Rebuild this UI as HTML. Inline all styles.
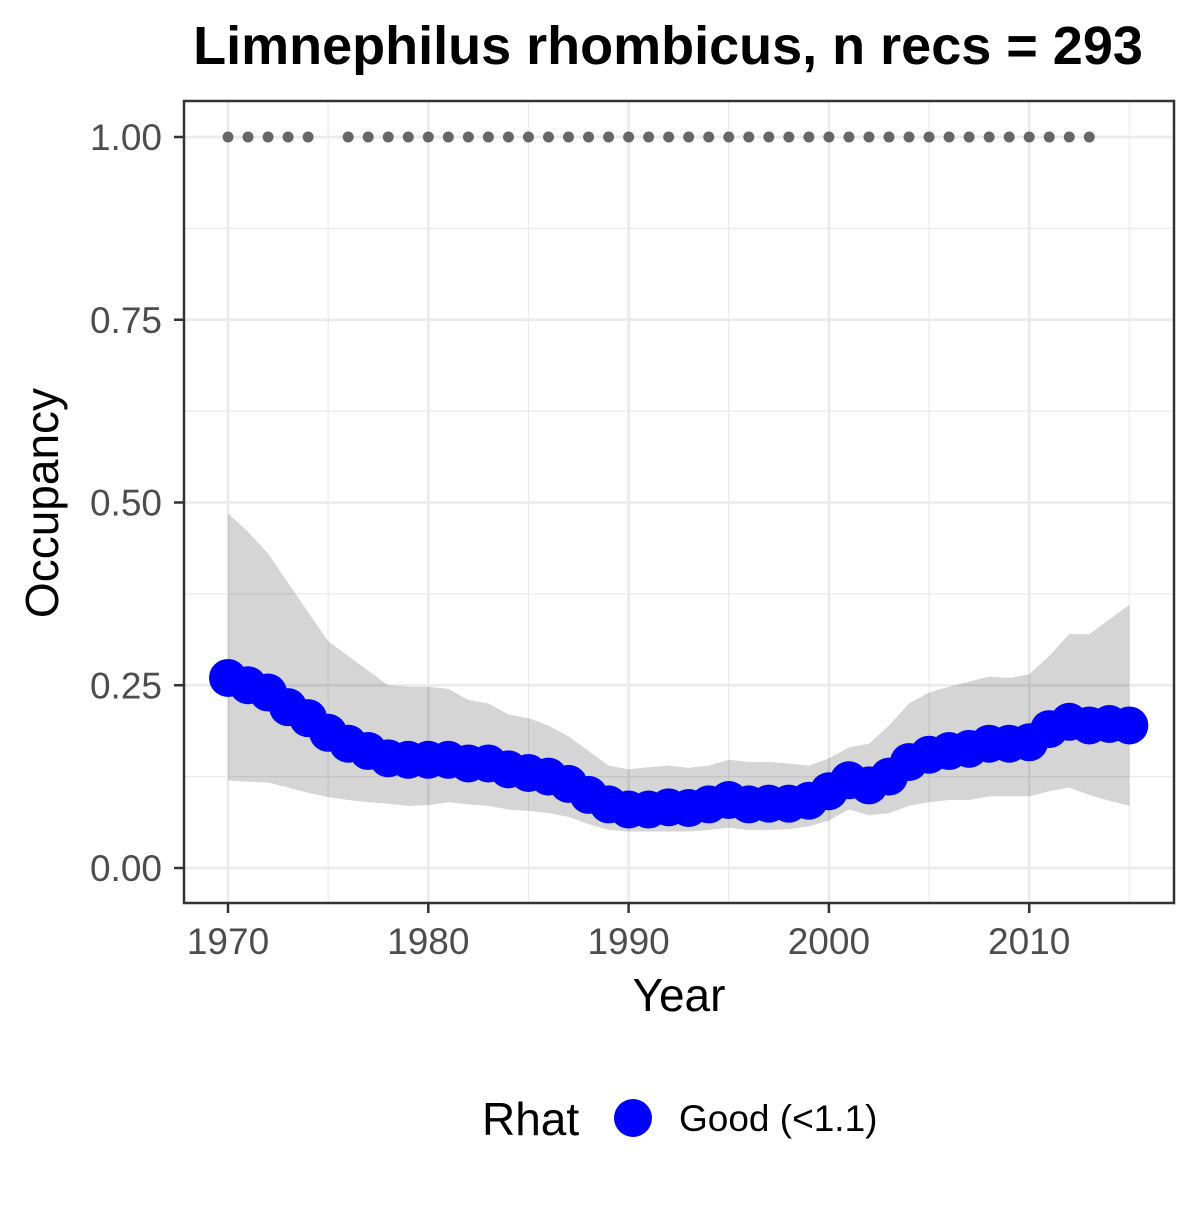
<!DOCTYPE html>
<html><head><meta charset="utf-8"><style>
body{margin:0;background:#fff;}
svg text{font-family:"Liberation Sans",Arial,sans-serif;}
</style></head><body>
<svg id="chart" width="1200" height="1200" viewBox="0 0 1200 1200" xmlns="http://www.w3.org/2000/svg">
<rect width="1200" height="1200" fill="#fff"/>
<text x="668" y="64" text-anchor="middle" font-size="54" font-weight="bold" fill="#000">Limnephilus rhombicus, n recs = 293</text>
<g id="grid"></g>
<g id="ribbon"></g>
<g id="recdots"></g>
<g id="points"></g>
<rect x="184" y="101" width="990" height="802" fill="none" stroke="#333" stroke-width="2.5"/>
<g id="axes"></g>
<text x="679" y="1011" text-anchor="middle" font-size="46" fill="#000">Year</text>
<text transform="translate(58,503) rotate(-90)" text-anchor="middle" font-size="46" fill="#000">Occupancy</text>
<g>
<text x="482" y="1135" font-size="46" fill="#000">Rhat</text>
<circle cx="633" cy="1118" r="19" fill="#0000ff"/>
<text x="679" y="1131" font-size="37" fill="#000">Good (&lt;1.1)</text>
</g>
</svg>
<script>
const years=[1970,1971,1972,1973,1974,1975,1976,1977,1978,1979,1980,1981,1982,1983,1984,1985,1986,1987,1988,1989,1990,1991,1992,1993,1994,1995,1996,1997,1998,1999,2000,2001,2002,2003,2004,2005,2006,2007,2008,2009,2010,2011,2012,2013,2014,2015];
const occupancy=[0.26,0.25,0.24,0.22,0.205,0.185,0.17,0.16,0.15,0.148,0.148,0.148,0.143,0.143,0.135,0.13,0.125,0.115,0.10,0.087,0.08,0.08,0.083,0.082,0.087,0.093,0.087,0.088,0.088,0.092,0.105,0.12,0.113,0.125,0.145,0.155,0.16,0.163,0.17,0.17,0.172,0.19,0.2,0.195,0.197,0.195];
const upper=[0.485,0.46,0.43,0.39,0.35,0.31,0.29,0.27,0.25,0.248,0.248,0.245,0.23,0.225,0.21,0.205,0.195,0.18,0.16,0.14,0.135,0.138,0.14,0.137,0.14,0.148,0.145,0.145,0.143,0.14,0.15,0.165,0.17,0.195,0.225,0.24,0.248,0.255,0.262,0.26,0.265,0.29,0.32,0.32,0.34,0.36];
const lower=[0.12,0.118,0.117,0.11,0.103,0.097,0.093,0.09,0.088,0.085,0.086,0.09,0.087,0.085,0.08,0.078,0.075,0.07,0.06,0.052,0.05,0.05,0.05,0.05,0.052,0.055,0.052,0.052,0.053,0.057,0.065,0.08,0.072,0.075,0.085,0.09,0.093,0.093,0.098,0.098,0.098,0.105,0.11,0.1,0.092,0.085];
const recYears=[1970,1971,1972,1973,1974,1976,1977,1978,1979,1980,1981,1982,1983,1984,1985,1986,1987,1988,1989,1990,1991,1992,1993,1994,1995,1996,1997,1998,1999,2000,2001,2002,2003,2004,2005,2006,2007,2008,2009,2010,2011,2012,2013];
const xTicks=[1970,1980,1990,2000,2010];
const yTicks=[0,0.25,0.5,0.75,1];
const yTickLabels=["0.00","0.25","0.50","0.75","1.00"];

const NS="http://www.w3.org/2000/svg";
const X=y=>228+(y-1970)*20.03;
const Y=v=>868-v*731;
function mk(tag,attrs,parent){const e=document.createElementNS(NS,tag);for(const k in attrs)e.setAttribute(k,attrs[k]);document.getElementById(parent).appendChild(e);return e;}

[1975,1985,1995,2005,2015].forEach(v=>{const l=mk('line',{x1:X(v),x2:X(v),y1:101,y2:903,stroke:'#ebebeb','stroke-width':1.3},'grid');

});
[0.125,0.375,0.625,0.875].forEach(v=>{const l=mk('line',{x1:184,x2:1174,y1:Y(v),y2:Y(v),stroke:'#ebebeb','stroke-width':1.3},'grid');

});
xTicks.forEach(v=>{const l=mk('line',{x1:X(v),x2:X(v),y1:101,y2:903,stroke:'#ebebeb','stroke-width':2.7},'grid');

});
yTicks.forEach(v=>{const l=mk('line',{x1:184,x2:1174,y1:Y(v),y2:Y(v),stroke:'#ebebeb','stroke-width':2.7},'grid');

});

let d='M'+years.map((y,i)=>X(y)+','+Y(upper[i])).join(' L');
for(let i=years.length-1;i>=0;i--)d+=' L'+X(years[i])+','+Y(lower[i]);
const rb=mk('path',{d:d+'Z',fill:'#000','fill-opacity':0.165},'ribbon');



recYears.forEach(y=>{const c=mk('circle',{cx:X(y),cy:Y(1),r:5.5,fill:'#666'},'recdots');

});

years.forEach((y,i)=>{const c=mk('circle',{cx:X(y),cy:Y(occupancy[i]),r:19,fill:'#0000ff'},'points');

});

xTicks.forEach(v=>{mk('line',{x1:X(v),x2:X(v),y1:903,y2:913,stroke:'#333','stroke-width':2.5},'axes');
const t=mk('text',{x:X(v),y:954,'text-anchor':'middle','font-size':37,fill:'#4d4d4d'},'axes');t.textContent=v;

});
yTicks.forEach((v,i)=>{mk('line',{x1:174,x2:184,y1:Y(v),y2:Y(v),stroke:'#333','stroke-width':2.5},'axes');
const t=mk('text',{x:162,y:Y(v)+13,'text-anchor':'end','font-size':37,fill:'#4d4d4d'},'axes');t.textContent=yTickLabels[i];

});
</script>
</body></html>
